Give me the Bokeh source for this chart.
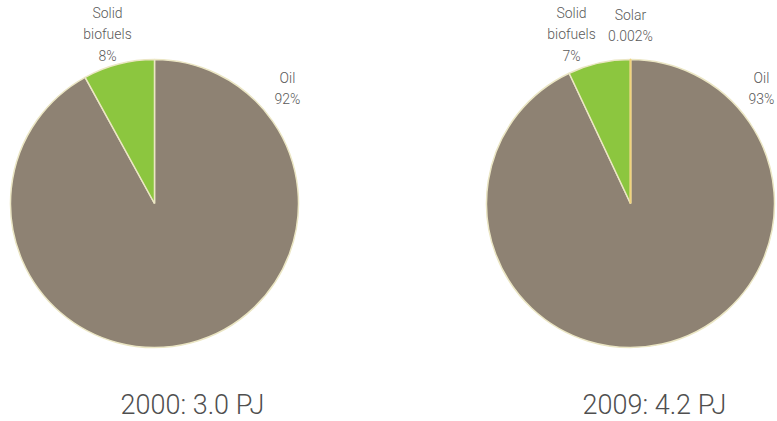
import numpy as np
from bokeh.plotting import figure
from bokeh.models import Range1d, ColumnDataSource
from bokeh.core.properties import value
from bokeh.embed import file_html
from bokeh.resources import INLINE

# ---- data ----
cats_2000 = ["Oil", "Solid biofuels"]
vals_2000 = [92, 8]
pct_2000 = ["92%", "8%"]
cats_2009 = ["Oil", "Solid biofuels", "Solar"]
vals_2009 = [93, 7, 0.002]
pct_2009 = ["93%", "7%", "0.002%"]
titles = ["2000: 3.0 PJ", "2009: 4.2 PJ"]

colors = {"Oil": "#8e8273", "Solid biofuels": "#8cc63f", "Solar": "#f0d27c"}
edge = "#ebe6c4"

W, H = 777, 421
p = figure(width=W, height=H, output_backend="svg", toolbar_location=None,
           x_range=Range1d(0, W), y_range=Range1d(0, H),
           min_border=0, outline_line_color=None)
p.axis.visible = False
p.grid.visible = False
p.background_fill_color = "white"
p.border_fill_color = "white"

FONT = "Roboto Light"

def img_y(y):
    return H - y

def draw_pie(cx, cy, cats, vals, pcts, label_pos, title, title_pos):
    v = np.array(vals, dtype=float)
    frac = v / v.sum()
    cum = np.concatenate([[0], np.cumsum(frac)])
    start = np.pi / 2 - 2 * np.pi * cum[1:]
    end = np.pi / 2 - 2 * np.pi * cum[:-1]
    src = ColumnDataSource(dict(
        start=start, end=end, color=[colors[c] for c in cats],
        line=[colors[c] if c == "Solar" else edge for c in cats],
        lw=[2.0 if c == "Solar" else 1.5 for c in cats],
    ))
    p.wedge(x=cx, y=img_y(cy), radius=144, start_angle="start", end_angle="end",
            direction="anticlock", fill_color="color", line_color="line",
            line_width="lw", source=src)
    labels = [c.replace(" ", "\n") + "\n" + pc for c, pc in zip(cats, pcts)]
    lsrc = ColumnDataSource(dict(
        x=[label_pos[c][0] for c in cats], y=[img_y(label_pos[c][1]) for c in cats],
        text=labels))
    p.text(x="x", y="y", text="text", source=lsrc, text_align="center",
           text_baseline="middle", text_font=value(FONT), text_font_size="14px",
           text_color="#5a5a5a", text_line_height=1.35)
    p.text(x=[title_pos[0]], y=[img_y(title_pos[1])], text=[title],
           text_align="center", text_baseline="middle", text_font=value(FONT),
           text_font_size="27px", text_color="#4f4f4f")

draw_pie(154, 203, cats_2000, vals_2000, pct_2000,
         {"Oil": (287, 88), "Solid biofuels": (107, 34)},
         titles[0], (192, 404))
draw_pie(630, 203, cats_2009, vals_2009, pct_2009,
         {"Oil": (761, 88), "Solid biofuels": (571, 34), "Solar": (630, 25)},
         titles[1], (654, 404))

open("out.html", "w").write(file_html(p, INLINE))
